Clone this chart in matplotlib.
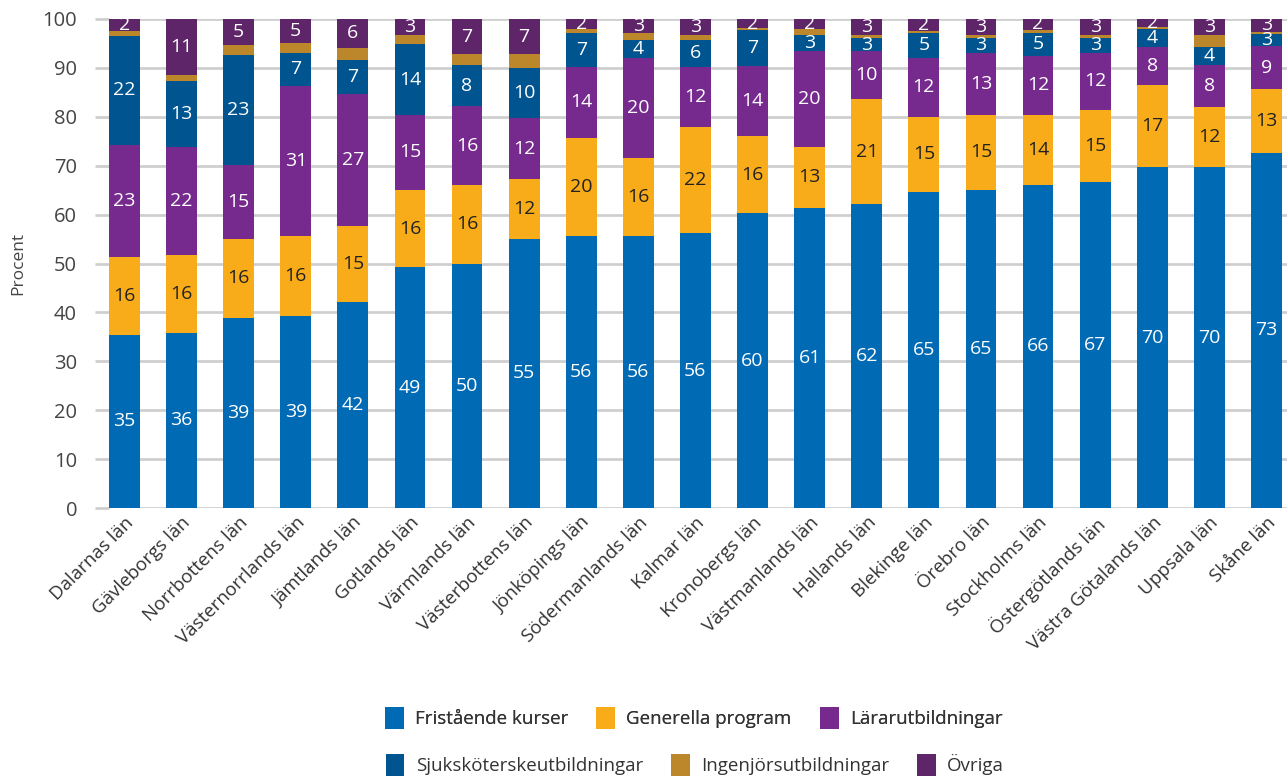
import numpy as np
import matplotlib.pyplot as plt
from matplotlib.patches import Patch

plt.rcParams['font.family'] = ['Open Sans', 'DejaVu Sans']

# ---------------- DATA ----------------
regions = ["Dalarnas län", "Gävleborgs län", "Norrbottens län", "Västernorrlands län",
           "Jämtlands län", "Gotlands län", "Värmlands län", "Västerbottens län",
           "Jönköpings län", "Södermanlands län", "Kalmar län", "Kronobergs län",
           "Västmanlands län", "Hallands län", "Blekinge län", "Örebro län",
           "Stockholms län", "Östergötlands län", "Västra Götalands län",
           "Uppsala län", "Skåne län"]

fristaende = [35.4, 35.8, 38.9, 39.3, 42.2, 49.2, 50.0, 55.1, 55.7, 55.7, 56.2,
              60.3, 61.3, 62.2, 64.6, 65.0, 66.1, 66.6, 69.7, 69.7, 72.6]
generella = [16.0, 15.9, 16.1, 16.4, 15.4, 15.8, 16.0, 12.2, 20.0, 15.9, 21.7,
             15.8, 12.6, 21.4, 15.4, 15.4, 14.3, 14.8, 16.8, 12.4, 13.0]
larare = [22.8, 22.2, 15.1, 30.7, 27.1, 15.4, 16.2, 12.4, 14.5, 20.4, 12.3,
          14.3, 19.6, 9.8, 12.1, 12.7, 12.1, 11.7, 7.8, 8.4, 8.8]
sjuksk = [22.4, 13.4, 22.6, 6.6, 7.0, 14.4, 8.4, 10.3, 7.0, 3.7, 5.5,
          7.3, 3.3, 2.7, 5.1, 3.1, 4.7, 3.1, 3.6, 3.7, 2.6]
ingenjor = [0.9, 1.3, 1.9, 2.0, 2.4, 1.9, 2.2, 2.8, 0.8, 1.4, 1.0,
            0.4, 1.2, 0.6, 0.4, 0.6, 0.6, 0.6, 0.4, 2.5, 0.4]
ovriga = [2.5, 11.4, 5.4, 5.0, 5.9, 3.3, 7.2, 7.2, 2.0, 2.9, 3.3,
          1.9, 2.0, 3.3, 2.4, 3.2, 2.2, 3.2, 1.7, 3.3, 2.6]

series = [
    ("Fristående kurser", fristaende, "#006AB4", "white", True),
    ("Generella program", generella, "#F9AC19", "#222222", True),
    ("Lärarutbildningar", larare, "#772A8E", "white", True),
    ("Sjuksköterskeutbildningar", sjuksk, "#00548F", "white", True),
    ("Ingenjörsutbildningar", ingenjor, "#BC862A", "white", False),
    ("Övriga", ovriga, "#5E2669", "white", True),
]

# ---------------- PLOT ----------------
fig = plt.figure(figsize=(12.87, 7.76), dpi=100)
ax = fig.add_axes([109 / 1287, (776 - 508) / 776, (1287 - 109) / 1287, 489 / 776])

x = np.arange(len(regions))
bottom = np.zeros(len(regions))
handles = []
for name, vals, color, tcolor, show in series:
    vals = np.array(vals)
    ax.bar(x, vals, width=0.54, bottom=bottom, color=color, zorder=3)
    if show:
        for xi, b, v in zip(x, bottom, vals):
            ax.text(xi, b + v / 2, f"{v:.0f}", ha="center", va="center",
                    color=tcolor, fontsize=14, zorder=4)
    bottom += vals
    handles.append(Patch(facecolor=color, label=name))

ax.set_xlim(-0.27, 20.36)
ax.set_ylim(0, 100)
ax.set_yticks(range(0, 101, 10))
ax.yaxis.grid(True, color="#CFCFCF", linewidth=2, zorder=0)
ax.set_axisbelow(True)
for s in ax.spines.values():
    s.set_visible(False)

ax.tick_params(axis="y", length=10, width=2, color="#CFCFCF", pad=13,
               labelsize=14.5, labelcolor="#444444")
ax.tick_params(axis="x", length=0, pad=4)
ax.set_xticks(x)
ax.set_xticklabels(regions, rotation=45, ha="right", rotation_mode="anchor",
                   fontsize=13.5, color="#333333")
ax.set_ylabel("Procent", fontsize=12.5, color="#444444", labelpad=12)

# two legend rows
leg1 = fig.legend(handles=handles[:3], loc="center", bbox_to_anchor=(0.539, 0.0747),
                  ncol=3, frameon=False, fontsize=13.5, handlelength=1.0, handleheight=1.4,
                  columnspacing=1.5, handletextpad=0.6, labelcolor="#333333")
fig.add_artist(leg1)
fig.legend(handles=handles[3:], loc="center", bbox_to_anchor=(0.54, 0.0142),
           ncol=3, frameon=False, fontsize=13.5, handlelength=1.0, handleheight=1.4,
           columnspacing=1.5, handletextpad=0.6, labelcolor="#333333")

fig.savefig("out.png", dpi=100)
